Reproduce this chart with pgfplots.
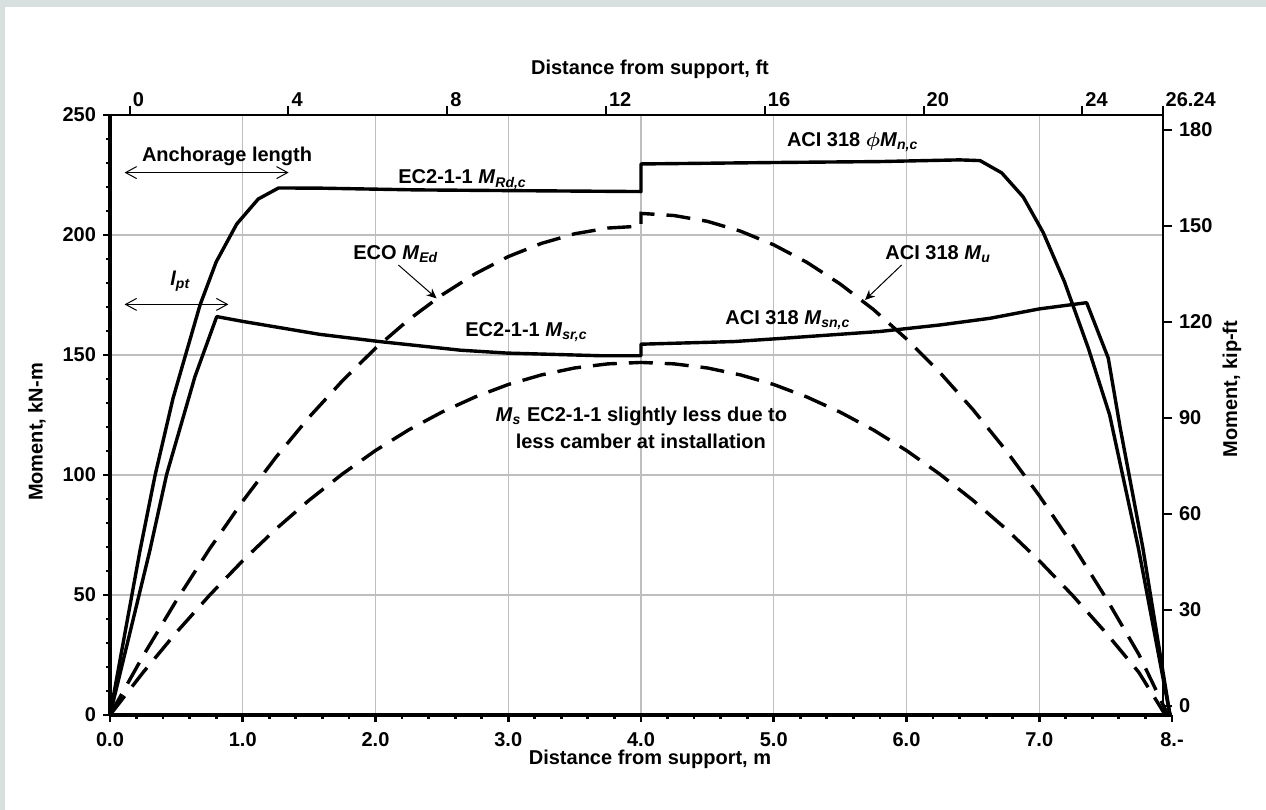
\documentclass[border=0pt]{standalone}
\usepackage{fontspec}
\setmainfont{Liberation Sans}
\usepackage{pgfplots}
\pgfplotsset{compat=1.18}
\usetikzlibrary{arrows.meta}
\definecolor{bggray}{HTML}{D8E0DF}
\definecolor{gridgray}{HTML}{BEBEBE}
\newcommand{\annfont}{\fontsize{10}{12}\selectfont\bfseries}
\newcommand{\tickfont}{\fontsize{10}{12}\selectfont\bfseries}

\pgfplotstableread{
x y
0 0
0.226 68.5
0.34 100
0.475 132
0.678 170.8
0.80 188.8
0.955 204.6
1.117 215
1.27 219.6
1.6 219.5
2.3 218.8
3.0 218.5
4.0 218.1
4.0 229.6
5.0 230.2
5.8 230.6
6.4 231.3
6.554 231.0
6.717 225.9
6.88 215.8
7.03 201
7.19 180.5
7.37 152.8
7.53 125.1
7.746 69.8
7.985 0
}\capacity

\pgfplotstableread{
x y
0 0
0.30 68.5
0.427 100.3
0.64 141
0.804 166
1.0 164
1.58 158.6
2.03 155.6
2.64 152
2.99 150.8
3.69 149.7
4.0 149.7
4.0 154.5
4.70 155.6
5.0 156.7
5.8 159.8
6.25 162.5
6.63 165.3
7.0 169.2
7.357 171.8
7.52 148.7
7.61 119.6
7.78 69.8
7.985 0
}\cracking

\pgfplotstableread{
x y
0 0
0.25 24.7
0.5 47.7
0.75 69.2
1 89.1
1.25 107.4
1.5 124.1
1.75 139.2
2 152.8
2.25 164.7
2.5 175.0
2.75 183.8
3 191.0
3.25 196.5
3.5 200.5
3.75 202.9
4 203.7
4 209.0
4.25 208.1
4.5 205.7
4.75 201.6
5 195.9
5.25 188.6
5.5 179.6
5.75 169.0
6 156.7
6.25 142.8
6.5 127.3
6.75 110.2
7 91.4
7.25 71.0
7.5 49.0
7.75 25.3
7.97 0
}\ultimate

\pgfplotstableread{
x y
0 0
0.25 17.8
0.5 34.4
0.75 49.9
1 64.3
1.25 77.5
1.5 89.5
1.75 100.4
2 110.2
2.25 118.8
2.5 126.2
2.75 132.5
3 137.7
3.25 141.7
3.5 144.6
3.75 146.3
4 146.9
4.25 146.3
4.5 144.6
4.75 141.7
5 137.7
5.25 132.5
5.5 126.2
5.75 118.8
6 110.2
6.25 100.4
6.5 89.5
6.75 77.5
7 64.3
7.25 49.9
7.5 34.4
7.75 17.8
7.95 0
}\service

\begin{document}
\begin{tikzpicture}
\fill[bggray] (0,0) rectangle (633pt,405pt);
\fill[white] (2.5pt,0) rectangle (633pt,401.5pt);

% grid
\begin{axis}[at={(55pt,47.5pt)}, anchor=south west, scale only axis,
  width=526.5pt, height=300pt,
  xmin=0, xmax=7.932, ymin=0, ymax=250,
  xtick={1,2,...,7}, ytick={50,100,150,200},
  xticklabels={}, yticklabels={},
  grid=major, major grid style={gridgray, line width=0.7pt},
  axis line style={draw=none}, major tick length=0pt, tick style={draw=none}]
\addplot[draw=none] coordinates {(1,1)};
\end{axis}

% top (ft) and right (kip-ft) axes
\begin{axis}[at={(55pt,52pt)}, anchor=south west, scale only axis,
  width=526.5pt, height=295.5pt,
  xmin=-0.496, xmax=26.03, ymin=0, ymax=184.7,
  axis x line=top, axis y line=right,
  axis line style={-},
  x axis line style={line width=1pt},
  y axis line style={line width=1.2pt},
  tick align=outside, major tick length=4.5pt,
  tick style={black, line width=1pt},
  xtick={0,4,8,12,16,20,24,26.02},
  xticklabels={0,4,8,12,16,20,24,26.24},
  ytick={0,30,...,180},
  xticklabel style={anchor=south west, xshift=-2pt, yshift=-4pt},
  tick label style={font=\tickfont},
  /pgf/number format/assume math mode=true]
\addplot[draw=none] coordinates {(1,1)};
\end{axis}

% main axis
\begin{axis}[at={(55pt,47.5pt)}, anchor=south west, scale only axis,
  width=531pt, height=300pt,
  xmin=0, xmax=8, ymin=0, ymax=250,
  axis x line=bottom, axis y line=left,
  axis line style={-, line width=1.8pt},
  tick align=outside,
  xtick={0,1,...,8},
  xticklabels={0.0,1.0,2.0,3.0,4.0,5.0,6.0,7.0,8.-},
  ytick={0,50,...,250},
  minor x tick num=4, minor y tick num=4,
  major tick length=3.5pt, minor tick length=2pt,
  tick style={black, line width=1.4pt},
  tick label style={font=\tickfont},
  xticklabel style={yshift=-1.5pt},
  /pgf/number format/assume math mode=true,
  clip=false]
\addplot[black, line width=1.7pt, line join=round] table[x=x,y=y] {\capacity};
\addplot[black, line width=1.7pt, line join=round] table[x=x,y=y] {\cracking};
\addplot[black, line width=1.7pt, dash pattern=on 12pt off 6pt] table[x=x,y=y] {\ultimate};
\addplot[black, line width=1.7pt, dash pattern=on 12pt off 6pt] table[x=x,y=y] {\service};
\end{axis}

% axis titles
\node[font=\annfont] at (325pt,370.5pt) {Distance from support, ft};
\node[font=\annfont] at (325pt,25.5pt) {Distance from support, m};
\node[font=\annfont, rotate=90] at (18.5pt,189pt) {Moment, kN-m};
\node[font=\annfont, rotate=90] at (616pt,210.5pt) {Moment, kip-ft};

% annotations
\node[font=\annfont, anchor=base west, inner sep=0pt] at (70.8pt,324.2pt) {Anchorage length};
\draw[line width=0.5pt, {Straight Barb[length=5.5pt,width=6pt]}-{Straight Barb[length=5.5pt,width=6pt]}] (62.3pt,318.7pt) -- (144.3pt,318.7pt);
\node[font=\annfont, anchor=base west, inner sep=0pt] at (85pt,262pt) {\itshape l\textsubscript{pt}};
\draw[line width=0.5pt, {Straight Barb[length=5.5pt,width=6pt]}-{Straight Barb[length=5.5pt,width=6pt]}] (62.3pt,252.8pt) -- (114.2pt,252.8pt);

\node[font=\annfont, anchor=base west, inner sep=0pt] at (199pt,313pt) {EC2-1-1 \textit{M}\textsubscript{\textit{Rd,c}}};
\node[font=\annfont, anchor=base west, inner sep=0pt] at (393.3pt,331.7pt) {ACI 318 {\boldmath$\phi$}\textit{M}\textsubscript{\textit{n,c}}};
\node[font=\annfont, anchor=base west, inner sep=0pt] at (176.5pt,275.3pt) {ECO \textit{M}\textsubscript{\textit{Ed}}};
\draw[line width=0.5pt, -{Stealth[length=5pt,width=4.5pt]}] (199.2pt,272.5pt) -- (218.3pt,255.8pt);
\node[font=\annfont, anchor=base west, inner sep=0pt] at (442.5pt,275.3pt) {ACI 318 \textit{M}\textsubscript{\textit{u}}};
\draw[line width=0.5pt, -{Stealth[length=5pt,width=4.5pt]}] (450.8pt,272.5pt) -- (432.5pt,255pt);
\node[font=\annfont, anchor=base west, inner sep=0pt] at (232.5pt,236.7pt) {EC2-1-1 \textit{M}\textsubscript{\textit{sr,c}}};
\node[font=\annfont, anchor=base west, inner sep=0pt] at (362.5pt,242.8pt) {ACI 318 \textit{M}\textsubscript{\textit{sn,c}}};
\node[font=\annfont, anchor=base, inner sep=0pt] at (320.7pt,194.2pt) {\textit{M}\textsubscript{\textit{s}} EC2-1-1 slightly less due to};
\node[font=\annfont, anchor=base, inner sep=0pt] at (320.4pt,180.8pt) {less camber at installation};
\end{tikzpicture}
\end{document}
